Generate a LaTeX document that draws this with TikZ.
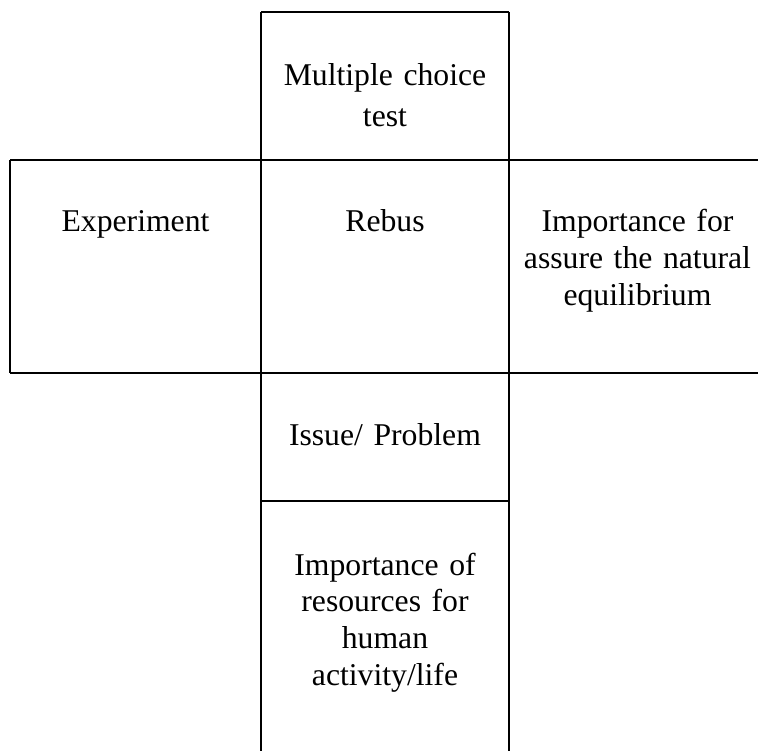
\documentclass[tikz,border=0pt]{standalone}
\usepackage{fontspec}
\setmainfont{Liberation Serif}
\begin{document}
\begin{tikzpicture}[x=1pt,y=-1pt,
  edge/.style={draw=black,line width=1.5pt},
  lbl/.style={anchor=base,inner sep=0pt,align=center,text width=#1,
    font=\fontsize{31.7}{36.7}\selectfont},
  lbl/.default=240pt]
\useasboundingbox (0,0) rectangle (758,751);
\clip (0,0) rectangle (758,751);
% box corners
\coordinate (tl) at (261,12); \coordinate (tr) at (509,12);
\coordinate (ml) at (10,160); \coordinate (mr) at (770,160);
\coordinate (bl) at (10,373); \coordinate (br) at (770,373);
\coordinate (cbl) at (261,760); \coordinate (cbr) at (509,760);
\coordinate (il) at (261,501); \coordinate (ir) at (509,501);
\draw[edge] (tl) -- (tr);
\draw[edge] (ml) -- (mr);
\draw[edge] (bl) -- (br);
\draw[edge] (ml) -- (bl);
\draw[edge] (tl) -- (cbl);
\draw[edge] (tr) -- (cbr);
\draw[edge] (il) -- (ir);
\draw[edge] (mr) -- (br);
% texts
\node[lbl, font=\fontsize{31.7}{41}\selectfont] (mc) at (385,86) {Multiple choice\\test};
\node[lbl] (exp) at (135.5,232) {Experiment};
\node[lbl] (reb) at (385,232) {Rebus};
\node[lbl=250pt] (imp) at (637.5,232) {Importance for\\assure the natural\\equilibrium};
\node[lbl] (iss) at (385,445) {Issue/ Problem};
\node[lbl] (res) at (385,575) {Importance of\\resources for\\human\\activity/life};
\end{tikzpicture}
\end{document}
